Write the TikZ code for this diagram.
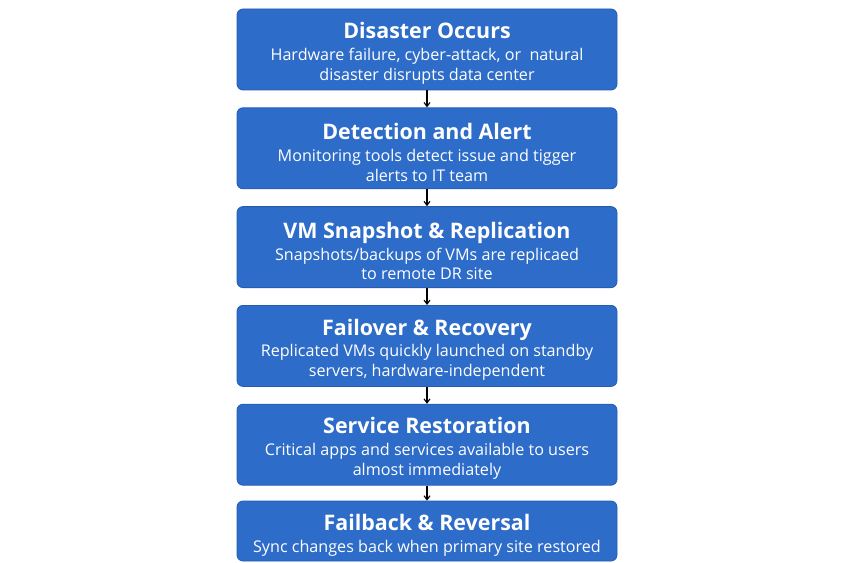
\documentclass[tikz,border=0pt]{standalone}
\usepackage{fontspec}
\setmainfont{Open Sans}
\usepackage{xcolor}
\usetikzlibrary{shapes,arrows.meta,positioning,calc}

\definecolor{stepblue}{RGB}{45,108,200}
\definecolor{stepedge}{RGB}{36,92,178}
\newcommand{\steptitle}[1]{{\fontsize{21.5}{24}\selectfont\bfseries\rule{0pt}{24bp}#1}}

\begin{document}
\begin{tikzpicture}[
    x=1bp, y=-1bp,
    node distance=17bp,
    box/.style={rectangle, draw=stepedge, line width=0.8bp, fill=stepblue, rounded corners=6bp,
        text=white, minimum width=380bp, minimum height=81bp, inner sep=1bp, align=center,
        font=\fontsize{16.2}{20}\selectfont},
    arrow/.style={-{Straight Barb[length=4bp,width=6bp]}, line width=1.1bp, black}
]
\useasboundingbox[fill=white] (0,0) rectangle (850,563);

\node[box] (disaster) at (427,49.5) {\steptitle{Disaster Occurs}\\[2bp]
    Hardware failure, cyber-attack, or \ natural\\ disaster disrupts data center};
\node[box, below=of disaster] (detect) {\steptitle{Detection and Alert}\\[2bp]
    Monitoring tools detect issue and tigger\\ alerts to IT team};
\node[box, below=of detect] (snapshot) {\steptitle{VM Snapshot \& Replication}\\[2bp]
    Snapshots/backups of VMs are replicaed\\ to remote DR site};
\node[box, below=of snapshot] (failover) {\steptitle{Failover \& Recovery}\\[2bp]
    Replicated VMs quickly launched on standby\\ servers, hardware-independent};
\node[box, below=of failover] (restore) {\steptitle{Service Restoration}\\[2bp]
    Critical apps and services available to users\\ almost immediately};
\node[box, below=15bp of restore, minimum height=60bp] (failback) {\steptitle{Failback \& Reversal}\\[2bp]
    Sync changes back when primary site restored};

\draw[arrow] (disaster) -- (detect);
\draw[arrow] (detect) -- (snapshot);
\draw[arrow] (snapshot) -- (failover);
\draw[arrow] (failover) -- (restore);
\draw[arrow] (restore) -- (failback);

\end{tikzpicture}
\end{document}
